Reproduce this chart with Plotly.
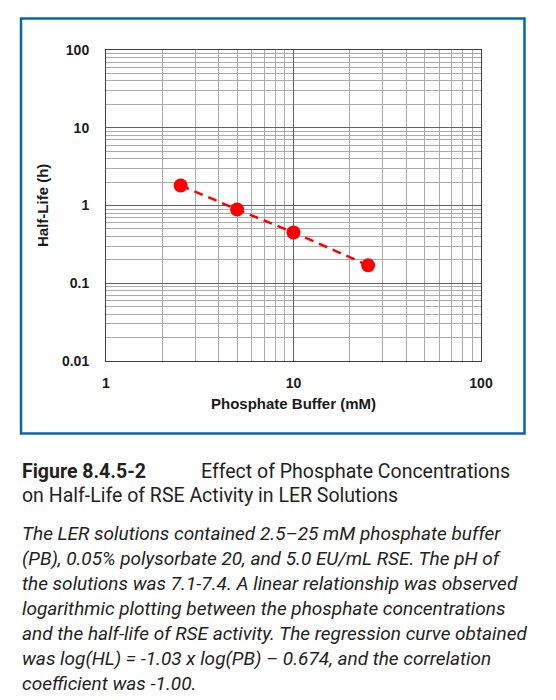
import plotly.graph_objects as go

# ---- data ----
phosphate_mM = [2.5, 5, 10, 25]
half_life_h = [1.81, 0.89, 0.45, 0.17]

x_tick_vals = [1, 10, 100]
x_tick_text = ["1", "10", "100"]
y_tick_vals = [0.01, 0.1, 1, 10, 100]
y_tick_text = ["0.01", "0.1", "1", "10", "100"]
x_minor_vals = [m * d for d in (1, 10) for m in range(2, 10)]
y_minor_vals = [m * d for d in (0.01, 0.1, 1, 10) for m in range(2, 10)]

x_title = "Phosphate Buffer (mM)"
y_title = "Half-Life (h)"
fig_label = "Figure 8.4.5-2"
fig_title_1 = "Effect of Phosphate Concentrations"
fig_title_2 = "on Half-Life of RSE Activity in LER Solutions"
caption_lines = [
    "The LER solutions contained 2.5–25 mM phosphate buffer",
    "(PB), 0.05% polysorbate 20, and 5.0 EU/mL RSE. The pH of",
    "the solutions was 7.1-7.4. A linear relationship was observed",
    "logarithmic plotting between the phosphate concentrations",
    "and the half-life of RSE activity. The regression curve obtained",
    "was log(HL) = -1.03 x log(PB) – 0.674, and the correlation",
    "coefficient was -1.00.",
]

# ---- layout geometry (page has an 8px body margin) ----
OFF = 8
W, H = 556 - OFF, 700 - OFF
L, R, T, B = 106 - OFF, 75, 50 - OFF, 339
PW, PH = W - L - R, H - T - B


def px(x):
    return (x - OFF - L) / PW


def py(y):
    return (H - B - (y - OFF)) / PH


fig = go.Figure()
fig.add_trace(go.Scatter(
    x=phosphate_mM, y=half_life_h, mode="lines+markers",
    line=dict(color="#FF0000", width=2.5, dash="9px,6px"),
    marker=dict(color="#FF0000", size=14),
    showlegend=False, hoverinfo="x+y",
))

tick_font = dict(family="Liberation Sans, Arial, sans-serif", size=14, color="#1a1a1a", weight="bold")
major_grid = "#646464"
minor_grid = "#aaaaaa"

fig.update_xaxes(
    type="log", range=[0, 2],
    tickmode="array", tickvals=x_tick_vals, ticktext=x_tick_text,
    showgrid=True, gridcolor=major_grid, gridwidth=1,
    minor=dict(tickmode="array", tickvals=x_minor_vals, showgrid=True, gridcolor=minor_grid, gridwidth=1, ticks=""),
    showline=True, mirror=True, linecolor="#404040", linewidth=1,
    ticks="", ticklabelstandoff=9,
    tickfont=tick_font, zeroline=False,
)
fig.update_yaxes(
    type="log", range=[-2, 2],
    tickmode="array", tickvals=y_tick_vals, ticktext=y_tick_text,
    showgrid=True, gridcolor=major_grid, gridwidth=1,
    minor=dict(tickmode="array", tickvals=y_minor_vals, showgrid=True, gridcolor=minor_grid, gridwidth=1, ticks=""),
    showline=True, mirror=True, linecolor="#404040", linewidth=1,
    ticks="", ticklabelstandoff=13,
    tickfont=tick_font, zeroline=False,
)

title_font = dict(family="Liberation Sans, Arial, sans-serif", size=15, color="#1a1a1a", weight="bold")
head_font = dict(family="Roboto, sans-serif", size=19.5, color="#231f20")
annotations = [
    dict(x=px(293.5), y=py(403), text=x_title, font=title_font, xanchor="center", yanchor="middle"),
    dict(x=px(42), y=py(206), text=y_title, font=title_font, textangle=-90, xanchor="center", yanchor="middle"),
    dict(x=px(20), y=py(471), text=f"<b>{fig_label}</b>", xanchor="left", yanchor="middle", font=head_font),
    dict(x=px(199), y=py(471), text=fig_title_1, xanchor="left", yanchor="middle", font=head_font),
    dict(x=px(20), y=py(496), text=fig_title_2, xanchor="left", yanchor="middle", font=head_font),
]
for i, line in enumerate(caption_lines):
    annotations.append(dict(
        x=px(20), y=py(533 + 25 * i), text=f"<i>{line}</i>", xanchor="left", yanchor="middle",
        font=dict(family="Roboto, sans-serif", size=19, color="#231f20"),
    ))
for a in annotations:
    a.update(xref="paper", yref="paper", showarrow=False)

fig.update_layout(
    width=W, height=H,
    margin=dict(l=L, r=R, t=T, b=B, pad=0),
    paper_bgcolor="white", plot_bgcolor="white",
    annotations=annotations,
    shapes=[dict(type="rect", xref="paper", yref="paper",
                 x0=px(21), x1=px(524.5), y0=py(18.5), y1=py(433.5),
                 line=dict(color="#0A64AA", width=2.5), fillcolor="rgba(0,0,0,0)", layer="below")],
)

fig.write_html("out.html")
